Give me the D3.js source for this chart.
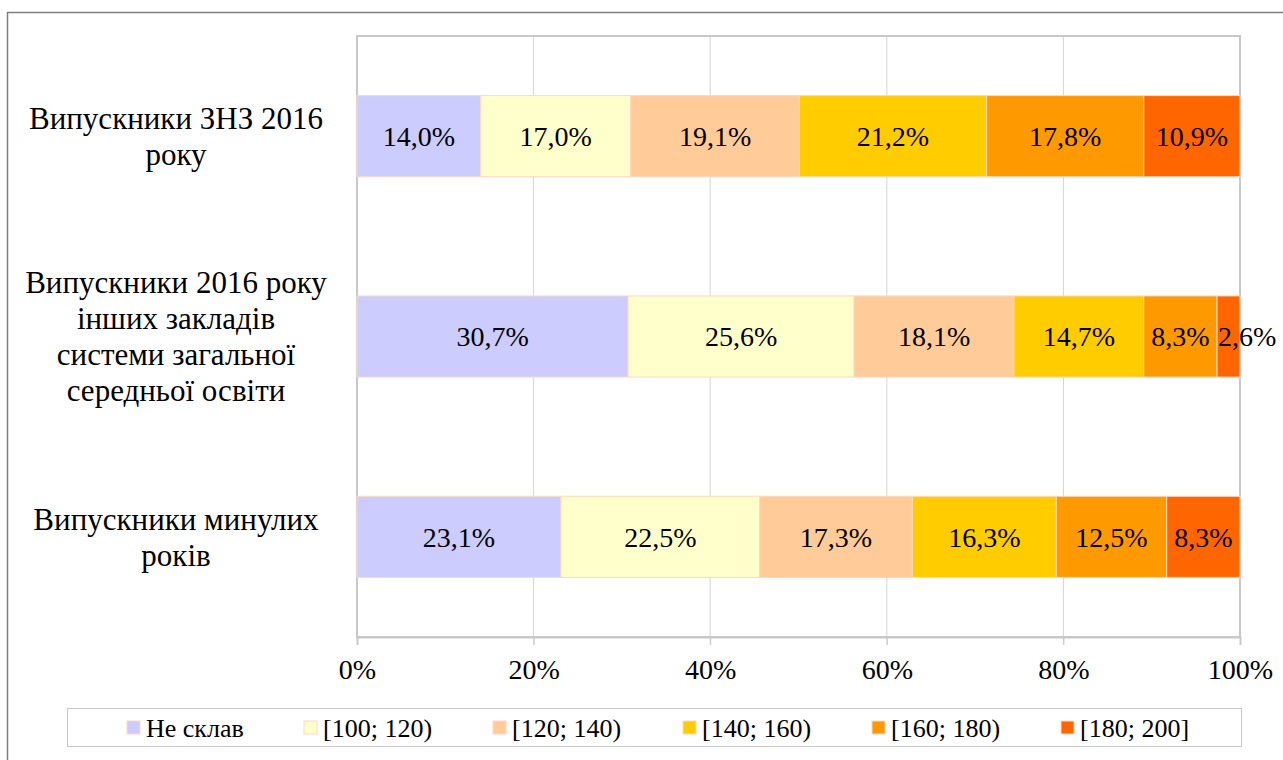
<!DOCTYPE html>
<html>
<head>
<meta charset="utf-8">
<script src="https://cdn.jsdelivr.net/npm/d3@7"></script>
<style>
  body { margin: 0; background: #fff; }
</style>
</head>
<body>
<div id="chart"></div>
<script>
// Категорії (згори вниз)
const categories = [
    "Випускники ЗНЗ 2016 року",
    "Випускники 2016 року інших закладів системи загальної середньої освіти",
    "Випускники минулих років"
];
const categoryLines = [
    ["Випускники ЗНЗ 2016", "року"],
    ["Випускники 2016 року", "інших закладів", "системи загальної", "середньої освіти"],
    ["Випускники минулих", "років"]
];

// Серії (частки, %)
const seriesNames = ["Не склав", "[100; 120)", "[120; 140)", "[140; 160)", "[160; 180)", "[180; 200]"];
const seriesColors = ["#ccccff", "#ffffcc", "#ffcc99", "#ffcc00", "#ff9900", "#ff6600"];
const neSklav  = [14.0, 30.7, 23.1];
const s100_120 = [17.0, 25.6, 22.5];
const s120_140 = [19.1, 18.1, 17.3];
const s140_160 = [21.2, 14.7, 16.3];
const s160_180 = [17.8, 8.3, 12.5];
const s180_200 = [10.9, 2.6, 8.3];
const tickValues = [0, 20, 40, 60, 80, 100];

const seriesValues = [neSklav, s100_120, s120_140, s140_160, s160_180, s180_200];

const FONT = "'Liberation Serif', 'Times New Roman', 'DejaVu Serif', serif";
const W = 1283, H = 760;
const plot = { left: 357, right: 1240, top: 36, bottom: 637 };

const rows = categories.map((c, i) => {
    const r = { category: c };
    seriesNames.forEach((s, j) => r[s] = seriesValues[j][i]);
    return r;
});

const svg = d3.select("#chart").append("svg")
    .attr("width", W)
    .attr("height", H)
    .style("display", "block")
    .style("font-family", FONT);

// Рамка діаграми
svg.append("rect")
    .attr("x", 7.5).attr("y", 12.5)
    .attr("width", W + 10).attr("height", H + 10)
    .attr("fill", "none")
    .attr("stroke", "#7f7f7f")
    .attr("stroke-width", 1.5);

const x = d3.scaleLinear()
    .domain([0, 100])
    .range([plot.left, plot.right]);

const y = d3.scaleBand()
    .domain(categories)
    .range([plot.top, plot.bottom])
    .paddingInner(0.595)
    .paddingOuter(0.2975);

// Сітка
svg.append("g")
    .selectAll("line")
    .data(tickValues.slice(1, -1))
    .enter().append("line")
    .attr("x1", d => x(d)).attr("x2", d => x(d))
    .attr("y1", plot.top).attr("y2", plot.bottom + 8)
    .attr("stroke", "#d4d4d4")
    .attr("stroke-width", 1);

// Рамка області побудови
svg.append("rect")
    .attr("x", plot.left).attr("y", plot.top)
    .attr("width", plot.right - plot.left)
    .attr("height", plot.bottom - plot.top)
    .attr("fill", "none")
    .attr("stroke", "#c8c8c8")
    .attr("stroke-width", 2);

// Вісь X
const xAxis = svg.append("g")
    .attr("transform", `translate(0,${plot.bottom})`)
    .call(d3.axisBottom(x).tickValues(tickValues).tickSize(8).tickPadding(14).tickFormat(d => d + "%"));
xAxis.attr("font-family", null);
xAxis.select(".domain").attr("stroke", "#c8c8c8").attr("stroke-width", 2);
xAxis.selectAll(".tick line").attr("stroke", "#c8c8c8");
xAxis.selectAll(".tick text")
    .style("font-family", FONT)
    .style("font-size", "28px")
    .attr("fill", "#000");

// Стовпці
const stacked = d3.stack().keys(seriesNames)(rows);

const groups = svg.append("g")
    .selectAll("g")
    .data(stacked)
    .enter().append("g")
    .attr("fill", (d, i) => seriesColors[i]);

groups.selectAll("rect")
    .data(d => d)
    .enter().append("rect")
    .attr("x", d => x(d[0]))
    .attr("y", d => y(d.data.category))
    .attr("width", d => x(d[1]) - x(d[0]))
    .attr("height", y.bandwidth())
    .attr("stroke", "#ffd8c0")
    .attr("stroke-width", 1);

// Підписи значень: по центру сегмента, а якщо не вміщується — від його початку
groups.selectAll("text")
    .data(d => d.map(v => ({ v, key: d.key })))
    .enter().append("text")
    .attr("x", d => (x(d.v[0]) + x(d.v[1])) / 2)
    .attr("y", d => y(d.v.data.category) + y.bandwidth() / 2)
    .attr("dy", "0.35em")
    .attr("text-anchor", "middle")
    .style("font-family", FONT)
    .style("font-size", "28px")
    .attr("fill", "#000")
    .text(d => d.v.data[d.key].toFixed(1).replace(".", ",") + "%")
    .each(function(d) {
        const segW = x(d.v[1]) - x(d.v[0]);
        if (this.getComputedTextLength() > segW) {
            d3.select(this)
                .attr("text-anchor", "start")
                .attr("x", x(d.v[0]) + 1);
        }
    });

// Підписи категорій
const lineH = 36;
categories.forEach((c, i) => {
    const lines = categoryLines[i];
    const cy = y(c) + y.bandwidth() / 2;
    const t = svg.append("text")
        .attr("text-anchor", "middle")
        .style("font-family", FONT)
        .style("font-size", "31px")
        .attr("fill", "#000");
    lines.forEach((l, k) => {
        t.append("tspan")
            .attr("x", 176)
            .attr("y", cy + (k - (lines.length - 1) / 2) * lineH)
            .attr("dy", "0.35em")
            .text(l);
    });
});

// Легенда
svg.append("rect")
    .attr("x", 67.5).attr("y", 708.5)
    .attr("width", 1174).attr("height", 38)
    .attr("fill", "#fff")
    .attr("stroke", "#c8c8c8")
    .attr("stroke-width", 1);

const legendX = [127, 304, 493, 683, 872, 1061];
const legend = svg.append("g")
    .selectAll("g")
    .data(seriesNames)
    .enter().append("g")
    .attr("transform", (d, i) => `translate(${legendX[i]},721)`);

legend.append("rect")
    .attr("width", 13).attr("height", 13)
    .attr("fill", (d, i) => seriesColors[i])
    .attr("stroke", "#ffd8c0")
    .attr("stroke-width", 1);

legend.append("text")
    .attr("x", 19)
    .attr("y", 6.5)
    .attr("dy", "0.35em")
    .style("font-family", FONT)
    .style("font-size", "26px")
    .attr("fill", "#000")
    .text(d => d);
</script>
</body>
</html>
